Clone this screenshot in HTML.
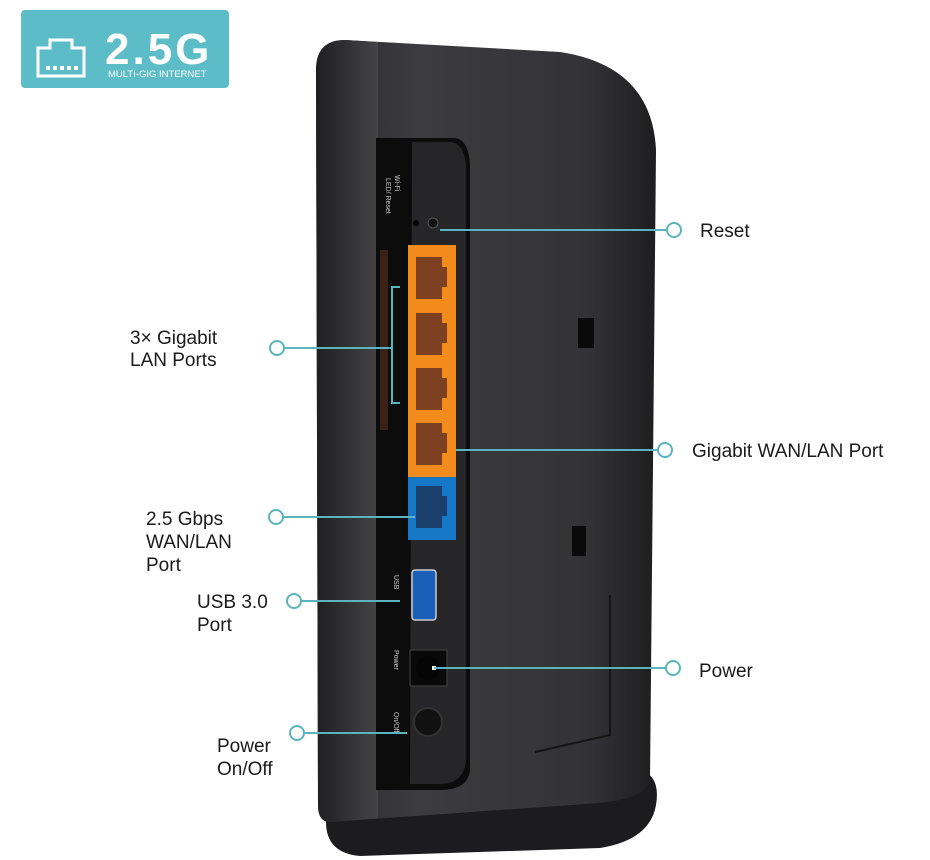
<!DOCTYPE html>
<html><head><style>
body{margin:0;background:#fff;}
svg{display:block;font-family:"Liberation Sans",sans-serif;}
</style></head><body>
<svg width="930" height="860" viewBox="0 0 930 860" xmlns="http://www.w3.org/2000/svg">
<defs>
<linearGradient id="bg" x1="0" x2="1"><stop offset="0" stop-color="#2a2a2c"/><stop offset="0.3" stop-color="#3c3c3e"/><stop offset="0.8" stop-color="#333335"/><stop offset="1" stop-color="#1e1e20"/></linearGradient>
<linearGradient id="lf" x1="0" x2="1"><stop offset="0" stop-color="#1f1f21"/><stop offset="1" stop-color="#444446"/></linearGradient>
</defs>
<!-- badge -->
<rect x="21" y="10" width="208" height="78" rx="4" fill="#5cbdc8"/>
<path d="M38 76 V48 H50 V40 H72 V48 H84 V76 Z" fill="none" stroke="#fff" stroke-width="3"/>
<g fill="#fff"><rect x="46" y="66" width="4" height="4"/><rect x="53" y="66" width="4" height="4"/><rect x="60" y="66" width="4" height="4"/><rect x="67" y="66" width="4" height="4"/><rect x="74" y="66" width="4" height="4"/></g>
<text x="105" y="64" font-size="44" font-weight="bold" fill="#fff" letter-spacing="3">2.5G</text>
<text x="108" y="77" font-size="9.5" fill="#fff">MULTI-GIG INTERNET</text>
<!-- base -->
<path d="M326 822 Q322 792 380 785 L630 768 Q662 770 656 805 Q650 840 600 848 L360 856 Q326 853 326 822 Z" fill="#1c1c1e"/>
<!-- body -->
<path d="M316 70 Q316 40 345 40 L560 52 Q652 66 656 150 L650 780 Q646 798 600 803 L330 822 Q318 822 318 805 Z" fill="url(#bg)"/>
<path d="M316 70 Q316 40 345 40 L378 42 L378 818 L330 822 Q318 822 318 805 Z" fill="url(#lf)"/>
<!-- recessed panel -->
<path d="M376 138 L455 138 Q470 140 470 170 L470 770 Q468 790 440 790 L376 790 Z" fill="#0c0c0d"/>
<path d="M412 142 L452 142 Q466 146 466 170 L466 760 Q464 784 440 784 L410 784 Z" fill="#262628"/>
<rect x="380" y="250" width="8" height="180" fill="#3a2216"/>
<!-- reset -->
<circle cx="416" cy="223" r="3" fill="#000"/><circle cx="433" cy="223" r="5" fill="#111" stroke="#555"/>
<!-- orange ports -->
<rect x="408" y="245" width="48" height="232" fill="#f38a1c"/>
<g fill="#7d4020">
<path d="M416 257 h26 v10 h5 v20 h-5 v12 h-26 Z"/>
<path d="M416 313 h26 v10 h5 v20 h-5 v12 h-26 Z"/>
<path d="M416 368 h26 v10 h5 v20 h-5 v12 h-26 Z"/>
<path d="M416 423 h26 v10 h5 v20 h-5 v12 h-26 Z"/>
</g>
<rect x="408" y="477" width="48" height="63" fill="#1677c6"/>
<path d="M416 486 h26 v10 h5 v20 h-5 v12 h-26 Z" fill="#1a3f6a"/>
<!-- usb -->
<rect x="412" y="570" width="24" height="50" rx="3" fill="#1b5fb8" stroke="#ccc" stroke-width="1.5"/>
<!-- power -->
<rect x="410" y="650" width="37" height="36" fill="#0a0a0a" stroke="#444"/>
<circle cx="428" cy="668" r="12" fill="#050505"/><rect x="432" y="666" width="4" height="4" fill="#fff"/>
<circle cx="428" cy="722" r="14" fill="#111" stroke="#333" stroke-width="2"/>
<!-- cutouts -->
<rect x="578" y="318" width="16" height="30" fill="#0a0a0a"/>
<rect x="572" y="526" width="14" height="30" fill="#0a0a0a"/>
<path d="M610 595 L610 735 L535 752" fill="none" stroke="#151515" stroke-width="2"/>
<!-- port text -->
<g fill="#ccc" font-size="7">
<text transform="translate(386,178) rotate(90)">LED/ Reset</text>
<text transform="translate(395,175) rotate(90)">Wi-Fi</text>
<text transform="translate(394,575) rotate(90)">USB</text>
<text transform="translate(394,650) rotate(90)">Power</text>
<text transform="translate(394,712) rotate(90)">On/Off</text>
</g>
<!-- connectors -->
<g stroke="#5bb4bd" stroke-width="2" fill="#fff">
<line x1="440" y1="230" x2="667" y2="230"/><circle cx="674" cy="230" r="7"/>
<line x1="284" y1="348" x2="392" y2="348"/><circle cx="277" cy="348" r="7"/>
<polyline points="400,287 392,287 392,403 400,403" fill="none"/>
<line x1="456" y1="450" x2="658" y2="450"/><circle cx="665" cy="450" r="7"/>
<line x1="283" y1="517" x2="415" y2="517"/><circle cx="276" cy="517" r="7"/>
<line x1="301" y1="601" x2="400" y2="601"/><circle cx="294" cy="601" r="7"/>
<line x1="434" y1="668" x2="666" y2="668"/><circle cx="673" cy="668" r="7"/>
<line x1="304" y1="733" x2="407" y2="733"/><circle cx="297" cy="733" r="7"/>
</g>
<g fill="#1a1a1a" font-size="19">
<text x="700" y="237">Reset</text>
<text x="130" y="344">3× Gigabit</text><text x="130" y="366">LAN Ports</text>
<text x="692" y="457">Gigabit WAN/LAN Port</text>
<text x="146" y="525">2.5 Gbps</text><text x="146" y="548">WAN/LAN</text><text x="146" y="571">Port</text>
<text x="197" y="608">USB 3.0</text><text x="197" y="631">Port</text>
<text x="699" y="677">Power</text>
<text x="217" y="752">Power</text><text x="217" y="775">On/Off</text>
</g>
</svg>
</body></html>
